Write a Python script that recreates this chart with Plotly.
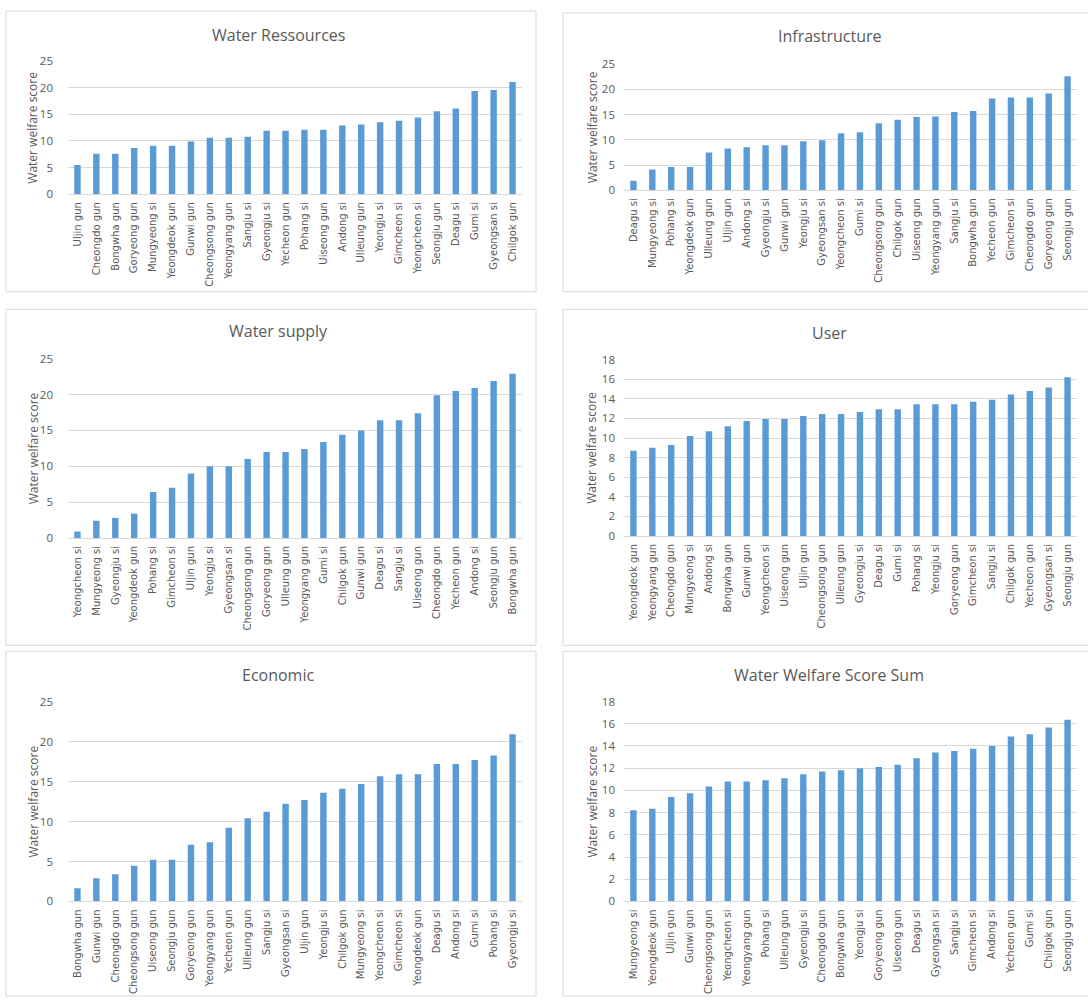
import plotly.graph_objects as go

W, H = 1088, 1005

# ---------------- data ----------------
res_cats = ["Uljin gun", "Cheongdo gun", "Bongwha gun", "Goryeong gun", "Mungyeong si", "Yeongdeok gun",
            "Gunwi gun", "Cheongsong gun", "Yeongyang gun", "Sangju si", "Gyeongju si", "Yecheon gun",
            "Pohang si", "Uiseong gun", "Andong si", "Ulleung gun", "Yeongju si", "Gimcheon si",
            "Yeongcheon si", "Seongju gun", "Deagu si", "Gumi si", "Gyeongsan si", "Chilgok gun"]
res_vals = [5.5, 7.6, 7.6, 8.7, 9.1, 9.1, 9.9, 10.6, 10.6, 10.8, 11.9, 11.9,
            12.1, 12.1, 12.9, 13.1, 13.5, 13.8, 14.4, 15.6, 16.1, 19.4, 19.6, 21.1]

inf_cats = ["Deagu si", "Mungyeong si", "Pohang si", "Yeongdeok gun", "Ulleung gun", "Uljin gun",
            "Andong si", "Gyeongju si", "Gunwi gun", "Yeongju si", "Gyeongsan si", "Yeongcheon si",
            "Gumi si", "Cheongsong gun", "Chilgok gun", "Uiseong gun", "Yeongyang gun", "Sangju si",
            "Bongwha gun", "Yecheon gun", "Gimcheon si", "Cheongdo gun", "Goryeong gun", "Seongju gun"]
inf_vals = [1.9, 4.1, 4.6, 4.6, 7.5, 8.3, 8.5, 8.9, 8.9, 9.7, 9.9, 11.3,
            11.5, 13.3, 14.0, 14.5, 14.6, 15.5, 15.7, 18.2, 18.4, 18.4, 19.2, 22.6]

sup_cats = ["Yeongcheon si", "Mungyeong si", "Gyeongju si", "Yeongdeok gun", "Pohang si", "Gimcheon si",
            "Uljin gun", "Yeongju si", "Gyeongsan si", "Cheongsong gun", "Goryeong gun", "Ulleung gun",
            "Yeongyang gun", "Gumi si", "Chilgok gun", "Gunwi gun", "Deagu si", "Sangju si",
            "Uiseong gun", "Cheongdo gun", "Yecheon gun", "Andong si", "Seongju gun", "Bongwha gun"]
sup_vals = [0.9, 2.4, 2.8, 3.4, 6.4, 7.0, 9.0, 10.0, 10.0, 11.0, 12.0, 12.0,
            12.4, 13.4, 14.4, 15.0, 16.4, 16.4, 17.4, 19.9, 20.5, 20.9, 21.9, 22.9]

usr_cats = ["Yeongdeok gun", "Yeongyang gun", "Cheongdo gun", "Mungyeong si", "Andong si", "Bongwha gun",
            "Gunwi gun", "Yeongcheon si", "Uiseong gun", "Uljin gun", "Cheongsong gun", "Ulleung gun",
            "Gyeongju si", "Deagu si", "Gumi si", "Pohang si", "Yeongju si", "Goryeong gun",
            "Gimcheon si", "Sangju si", "Chilgok gun", "Yecheon gun", "Gyeongsan si", "Seongju gun"]
usr_vals = [8.7, 9.0, 9.3, 10.2, 10.7, 11.2, 11.75, 11.95, 11.95, 12.25, 12.45, 12.45,
            12.65, 12.95, 12.95, 13.45, 13.45, 13.45, 13.7, 13.9, 14.45, 14.8, 15.15, 16.2]

eco_cats = ["Bongwha gun", "Gunwi gun", "Cheongdo gun", "Cheongsong gun", "Uiseong gun", "Seongju gun",
            "Goryeong gun", "Yeongyang gun", "Yecheon gun", "Ulleung gun", "Sangju si", "Gyeongsan si",
            "Uljin gun", "Yeongju si", "Chilgok gun", "Mungyeong si", "Yeongcheon si", "Gimcheon si",
            "Yeongdeok gun", "Deagu si", "Andong si", "Gumi si", "Pohang si", "Gyeongju si"]
eco_vals = [1.65, 2.9, 3.4, 4.45, 5.2, 5.2, 7.1, 7.4, 9.2, 10.4, 11.2, 12.2,
            12.7, 13.6, 14.1, 14.7, 15.65, 15.9, 15.9, 17.2, 17.2, 17.7, 18.25, 20.9]

sum_cats = ["Mungyeong si", "Yeongdeok gun", "Uljin gun", "Gunwi gun", "Cheongsong gun", "Yeongcheon si",
            "Yeongyang gun", "Pohang si", "Ulleung gun", "Gyeongju si", "Cheongdo gun", "Bongwha gun",
            "Yeongju si", "Goryeong gun", "Uiseong gun", "Deagu si", "Gyeongsan si", "Sangju si",
            "Gimcheon si", "Andong si", "Yecheon gun", "Gumi si", "Chilgok gun", "Seongju gun"]
sum_vals = [8.2, 8.35, 9.4, 9.75, 10.35, 10.8, 10.8, 10.9, 11.1, 11.45, 11.7, 11.8,
            12.0, 12.1, 12.3, 12.9, 13.4, 13.55, 13.75, 14.0, 14.85, 15.05, 15.65, 16.35]

titles = ["Water Ressources", "Infrastructure", "Water supply", "User", "Economic", "Water Welfare Score Sum"]
y_title = "Water welfare score"
y_max = [25, 25, 25, 18, 25, 18]
y_step = [5, 5, 5, 2, 5, 2]

# ---------------- layout geometry (pixels) ----------------
panels = [
    dict(cats=res_cats, vals=res_vals, box=(6, 3, 536, 288), px=(68, 522), py=(54, 189), tx=278, ty=27, ax=33, so=14),
    dict(cats=inf_cats, vals=inf_vals, box=(563, 5, 1095, 288), px=(624, 1077), py=(57, 185), tx=829, ty=28, ax=592, so=8),
    dict(cats=sup_cats, vals=sup_vals, box=(6, 306, 536, 647), px=(68, 522), py=(356, 538), tx=278, ty=328, ax=33, so=14),
    dict(cats=usr_cats, vals=usr_vals, box=(563, 306, 1095, 647), px=(624, 1077), py=(357, 536), tx=829, ty=330, ax=592, so=8),
    dict(cats=eco_cats, vals=eco_vals, box=(6, 653, 536, 1003), px=(68, 522), py=(704, 907), tx=278, ty=677, ax=33, so=14),
    dict(cats=sum_cats, vals=sum_vals, box=(563, 653, 1095, 1003), px=(624, 1077), py=(704, 907), tx=829, ty=677, ax=592, so=8),
]

FONT = "'Open Sans', Lato, sans-serif"
CFONT = "'DejaVu Sans', 'Open Sans', sans-serif"
GRAY = "#595959"
GRID = "#d9d9d9"
BLUE = "#5b9bd5"

fig = go.Figure()
shapes = []
annotations = []
layout_axes = {}

for i, p in enumerate(panels):
    n = "" if i == 0 else str(i + 1)
    fig.add_trace(go.Bar(x=p["cats"], y=p["vals"], marker=dict(color=BLUE, line=dict(width=0)),
                         xaxis="x" + n, yaxis="y" + n, showlegend=False))
    x0, x1 = p["px"]
    ytop, ybot = p["py"]
    layout_axes["xaxis" + n] = dict(
        domain=[x0 / W, x1 / W], anchor="y" + n, type="category",
        tickangle=-90, tickfont=dict(family=CFONT, size=10, color=GRAY),
        showgrid=False, showline=True, linecolor=GRID, linewidth=1, ticks="",
        ticklabelstandoff=3, fixedrange=True,
    )
    layout_axes["yaxis" + n] = dict(
        domain=[1 - ybot / H, 1 - ytop / H], anchor="x" + n,
        range=[0, y_max[i]], dtick=y_step[i], tick0=0,
        showgrid=True, gridcolor=GRID, gridwidth=1, zeroline=False, showline=False,
        tickfont=dict(family=FONT, size=11.5, color=GRAY), ticks="", ticklen=0,
        ticklabelstandoff=p["so"], fixedrange=True,
    )
    bx0, by0, bx1, by1 = p["box"]
    shapes.append(dict(type="rect", xref="paper", yref="paper",
                       x0=bx0 / W, x1=bx1 / W, y0=1 - by1 / H, y1=1 - by0 / H,
                       line=dict(color="#d9d9d9", width=1), fillcolor="rgba(0,0,0,0)", layer="below"))
    annotations.append(dict(text=titles[i], xref="paper", yref="paper", x=p["tx"] / W, y=1 - p["ty"] / H,
                            xanchor="center", yanchor="middle", showarrow=False,
                            font=dict(family=FONT, size=16, color=GRAY)))
    annotations.append(dict(text=y_title, xref="paper", yref="paper", x=p["ax"] / W,
                            y=1 - (ytop + ybot) / 2 / H, textangle=-90,
                            xanchor="center", yanchor="middle", showarrow=False,
                            font=dict(family=FONT, size=12, color=GRAY)))

fig.update_layout(
    width=W, height=H,
    margin=dict(l=0, r=0, t=0, b=0),
    paper_bgcolor="white", plot_bgcolor="white",
    bargap=0.66,
    shapes=shapes, annotations=annotations,
    **layout_axes,
)

fig.write_html("out.html")
